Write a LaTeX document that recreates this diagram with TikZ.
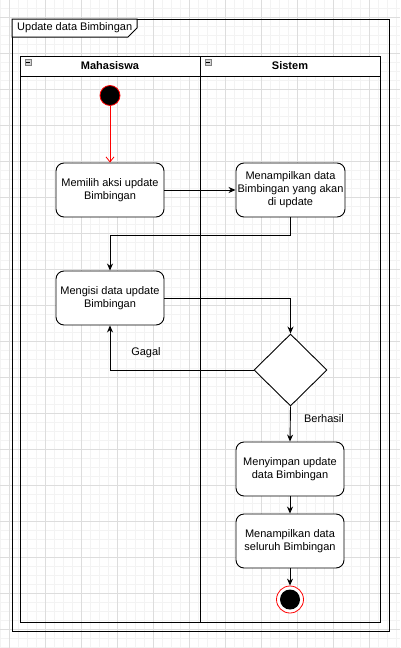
\documentclass[tikz,border=0pt]{standalone}
\usepackage{fontspec}
\setmainfont{Liberation Sans}
\usetikzlibrary{shapes.geometric,arrows.meta}
\definecolor{gridminor}{HTML}{F3F3F3}
\definecolor{gridmajor}{HTML}{DDDDDD}
\definecolor{startred}{HTML}{FF0000}
\tikzset{
  actbox/.style={draw=black, fill=white, rounded corners=8pt, minimum width=108pt, minimum height=54pt, align=center, inner sep=1pt, font=\fontsize{11}{13}\selectfont, line width=0.9pt},
  arr/.style={draw=black, line width=0.9pt, -{Stealth[length=7pt,width=6pt]}},
  lbl/.style={font=\fontsize{11}{13}\selectfont, inner sep=0pt},
  hdr/.style={font=\fontsize{11}{13}\selectfont\bfseries, inner sep=0pt},
  poolline/.style={draw=black, line width=1pt},
}
\begin{document}
\begin{tikzpicture}[x=1pt,y=-1pt]
\useasboundingbox (0,0) rectangle (400,648);
\fill[white] (0,0) rectangle (400,648);
% grid
\foreach \gx in {0,9,...,400} \draw[gridminor, line width=0.8pt] (\gx,0) -- (\gx,648);
\foreach \gy in {8,17,...,648} \draw[gridminor, line width=0.8pt] (0,\gy) -- (400,\gy);
\foreach \gx in {9,45,...,400} \draw[gridmajor, line width=0.8pt] (\gx,0) -- (\gx,648);
\foreach \gy in {17,53,...,648} \draw[gridmajor, line width=0.8pt] (0,\gy) -- (400,\gy);
% frame
\draw[poolline] (12,19) rectangle (389,631);
\draw[poolline, fill=white] (12,19) -- (137,19) -- (137,28) -- (128,37) -- (12,37) -- cycle;
\node[lbl, anchor=west] (framelbl) at (17,28) {Update data Bimbingan};
% pool
\draw[poolline] (20,56) rectangle (380,622);
\fill[white] (20.5,56.5) rectangle (379.5,76);
\draw[poolline] (20,76) -- (380,76);
\draw[poolline] (200,56) -- (200,622);
\foreach \ix in {25,205} {
  \draw[draw=gray, fill=gray!35, line width=0.5pt] (\ix,59) rectangle ++(6.5,6.5);
  \draw[black, line width=0.8pt] (\ix+1.3,62.25) -- (\ix+5.2,62.25);
}
\node[hdr] (hdrA) at (110,66) {Mahasiswa};
\node[hdr] (hdrB) at (290,66) {Sistem};
% nodes
\node[circle, fill=black, draw=startred, line width=0.8pt, minimum size=20pt, inner sep=0pt] (start) at (110,95.5) {};
\node[actbox] (n1) at (110,190) {Memilih aksi update\\Bimbingan};
\node[actbox, minimum width=109pt] (n2) at (290.5,190) {Menampilkan data\\Bimbingan yang akan\\di update};
\node[actbox] (n3) at (110,298) {Mengisi data update\\Bimbingan};
\node[diamond, draw=black, fill=white, line width=0.9pt, minimum width=73pt, minimum height=72pt, inner sep=0pt] (dia) at (290.5,370) {};
\node[actbox] (n4) at (290,469) {Menyimpan update\\data Bimbingan};
\node[actbox] (n5) at (290,541) {Menampilkan data\\seluruh Bimbingan};
\node[circle, draw=startred, fill=white, line width=0.8pt, minimum size=27pt, inner sep=0pt] (end) at (290,599.5) {};
\fill[black] (end.center) circle (10pt);
% connectors
\draw[draw=startred, line width=0.8pt, -{Straight Barb[length=5pt,width=8pt]}] (start) -- (n1.north);
\draw[arr] (n1.east) -- (n2.west);
\coordinate (c1) at (110,235);
\draw[arr] (n2.south) |- (c1) -- (n3.north);
\draw[arr] (n3.east) -| (dia.north);
\draw[arr] (dia.west) -| (n3.south);
\node[lbl] (gagal) at (146,353) {Gagal};
\draw[arr] (dia.south) -- (n4.north);
\node[lbl] (berhasil) at (324,419) {Berhasil};
\draw[arr] (n4.south) -- (n5.north);
\draw[arr] (n5.south) -- (end.north);
\end{tikzpicture}
\end{document}
